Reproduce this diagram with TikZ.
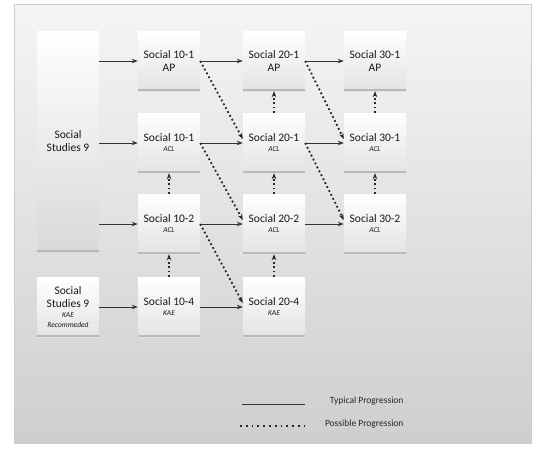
\documentclass[tikz,border=0pt]{standalone}
\usepackage{fontspec}
\setmainfont{Carlito}
\usetikzlibrary{arrows.meta}

\begin{document}
\begin{tikzpicture}[
    x=1pt, y=-1pt,
    course/.style={minimum width=62pt, minimum height=60pt, inner sep=1pt,
                   align=center, font=\fontsize{11.5}{13}\selectfont, text=black!90,
                   top color=white, bottom color=gray!22,
                   path picture={\fill[gray!55] (path picture bounding box.south west)
                       rectangle ([yshift=2.5pt]path picture bounding box.south east);}},
    typedge/.style={-{Stealth[length=6pt,width=4.5pt]}, line width=1pt, draw=black!80},
    posedge/.style={-{Stealth[length=6pt,width=4.5pt]}, line width=1.8pt, draw=black!85,
                    dash pattern=on 1.8pt off 2.6pt},
    lgd/.style={font=\fontsize{9.5}{11}\selectfont, anchor=east, text=black!85}
]
\useasboundingbox (0,0) rectangle (548,450);

% background panel
\fill[top color=gray!8, bottom color=gray!38, draw=gray!40] (14,4) rectangle (531,443);

% grade 9
\node[course, minimum height=221pt, bottom color=gray!30] (ss9) at (68,141.5) {Social\\Studies 9};
\node[course] (ss9k) at (68,307) {Social\\Studies 9\\[-3pt]{\fontsize{7.5}{8}\selectfont\itshape KAE}\\[-3pt]{\fontsize{7.5}{8}\selectfont\itshape Recommeded}};

% grade 10
\node[course] (s101ap)  at (169,61)  {Social 10-1\\AP};
\node[course] (s101acl) at (169,143) {Social 10-1\\[-3pt]{\fontsize{7.5}{8}\selectfont\itshape ACL}};
\node[course] (s102)    at (169,224) {Social 10-2\\[-3pt]{\fontsize{7.5}{8}\selectfont\itshape ACL}};
\node[course] (s104)    at (169,307) {Social 10-4\\[-3pt]{\fontsize{7.5}{8}\selectfont\itshape KAE}};

% grade 11
\node[course] (s201ap)  at (274,61)  {Social 20-1\\AP};
\node[course] (s201acl) at (274,143) {Social 20-1\\[-3pt]{\fontsize{7.5}{8}\selectfont\itshape ACL}};
\node[course] (s202)    at (274,224) {Social 20-2\\[-3pt]{\fontsize{7.5}{8}\selectfont\itshape ACL}};
\node[course] (s204)    at (274,307) {Social 20-4\\[-3pt]{\fontsize{7.5}{8}\selectfont\itshape KAE}};

% grade 12
\node[course] (s301ap)  at (375,61)  {Social 30-1\\AP};
\node[course] (s301acl) at (375,143) {Social 30-1\\[-3pt]{\fontsize{7.5}{8}\selectfont\itshape ACL}};
\node[course] (s302)    at (375,224) {Social 30-2\\[-3pt]{\fontsize{7.5}{8}\selectfont\itshape ACL}};

% typical progression
\draw[typedge] (ss9.east |- s101ap.west) -- (s101ap);
\draw[typedge] (ss9.east |- s101acl.west) -- (s101acl);
\draw[typedge] (ss9.east |- s102.west) -- (s102);
\draw[typedge] (ss9k) -- (s104);
\draw[typedge] (s101ap) -- (s201ap);
\draw[typedge] (s201ap) -- (s301ap);
\draw[typedge] (s101acl) -- (s201acl);
\draw[typedge] (s201acl) -- (s301acl);
\draw[typedge] (s102) -- (s202);
\draw[typedge] (s202) -- (s302);
\draw[typedge] (s104) -- (s204);

% possible progression
\draw[posedge] (s101ap.east) -- ([yshift=4pt]s201acl.west);
\draw[posedge] (s201ap.east) -- ([yshift=4pt]s301acl.west);
\draw[posedge] (s101acl.east) -- ([yshift=4pt]s202.west);
\draw[posedge] (s201acl.east) -- ([yshift=4pt]s302.west);
\draw[posedge] (s102.east) -- ([yshift=4pt]s204.west);
\draw[posedge] (s102) -- (s101acl);
\draw[posedge] (s104) -- (s102);
\draw[posedge] (s201acl) -- (s201ap);
\draw[posedge] (s202) -- (s201acl);
\draw[posedge] (s204) -- (s202);
\draw[posedge] (s301acl) -- (s301ap);
\draw[posedge] (s302) -- (s301acl);

% legend
\coordinate (t1) at (242,404);
\coordinate (t2) at (305,404);
\coordinate (p1) at (240,426);
\coordinate (p2) at (305,426);
\draw[line width=1pt, draw=black!80] (t1) -- (t2);
\draw[line width=1.8pt, draw=black!85, dash pattern=on 1.8pt off 4pt] (p1) -- (p2);
\node[lgd] (tlbl) at (407,401) {Typical Progression};
\node[lgd] (plbl) at (407,424) {Possible Progression};

\end{tikzpicture}
\end{document}
